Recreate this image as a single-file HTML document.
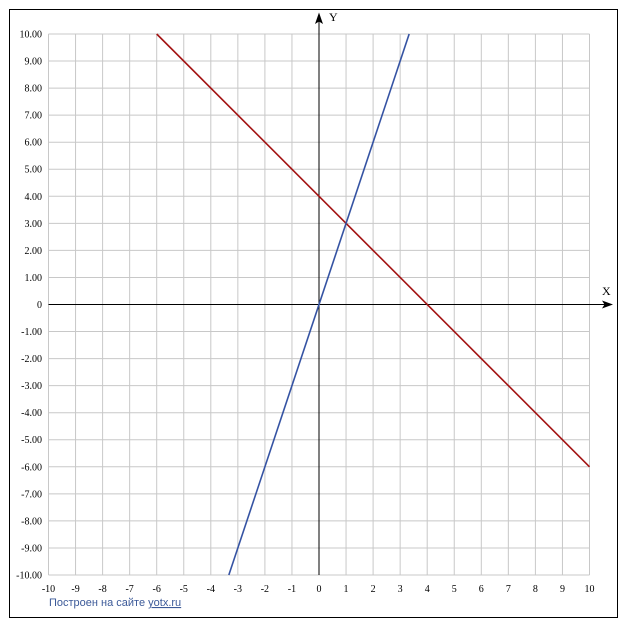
<!DOCTYPE html>
<html><head><meta charset="utf-8"><style>
html,body{margin:0;padding:0;background:#fff;}
svg{display:block;}
</style></head><body>
<svg width="627" height="630" viewBox="0 0 627 630" xmlns="http://www.w3.org/2000/svg">
<rect x="0" y="0" width="627" height="630" fill="#fff"/>
<rect x="9.5" y="9.5" width="608" height="608" fill="#fff" stroke="#000" stroke-width="1"/>
<g stroke="#c8c8c8" stroke-width="1">
<line x1="48.5" y1="34" x2="48.5" y2="575"/>
<line x1="75.55" y1="34" x2="75.55" y2="575"/>
<line x1="102.6" y1="34" x2="102.6" y2="575"/>
<line x1="129.65" y1="34" x2="129.65" y2="575"/>
<line x1="156.7" y1="34" x2="156.7" y2="575"/>
<line x1="183.75" y1="34" x2="183.75" y2="575"/>
<line x1="210.8" y1="34" x2="210.8" y2="575"/>
<line x1="237.85" y1="34" x2="237.85" y2="575"/>
<line x1="264.9" y1="34" x2="264.9" y2="575"/>
<line x1="291.95" y1="34" x2="291.95" y2="575"/>
<line x1="346.05" y1="34" x2="346.05" y2="575"/>
<line x1="373.1" y1="34" x2="373.1" y2="575"/>
<line x1="400.15" y1="34" x2="400.15" y2="575"/>
<line x1="427.2" y1="34" x2="427.2" y2="575"/>
<line x1="454.25" y1="34" x2="454.25" y2="575"/>
<line x1="481.3" y1="34" x2="481.3" y2="575"/>
<line x1="508.35" y1="34" x2="508.35" y2="575"/>
<line x1="535.4" y1="34" x2="535.4" y2="575"/>
<line x1="562.45" y1="34" x2="562.45" y2="575"/>
<line x1="589.5" y1="34" x2="589.5" y2="575"/>
<line x1="48.5" y1="34" x2="589.5" y2="34"/>
<line x1="48.5" y1="61.05" x2="589.5" y2="61.05"/>
<line x1="48.5" y1="88.1" x2="589.5" y2="88.1"/>
<line x1="48.5" y1="115.15" x2="589.5" y2="115.15"/>
<line x1="48.5" y1="142.2" x2="589.5" y2="142.2"/>
<line x1="48.5" y1="169.25" x2="589.5" y2="169.25"/>
<line x1="48.5" y1="196.3" x2="589.5" y2="196.3"/>
<line x1="48.5" y1="223.35" x2="589.5" y2="223.35"/>
<line x1="48.5" y1="250.4" x2="589.5" y2="250.4"/>
<line x1="48.5" y1="277.45" x2="589.5" y2="277.45"/>
<line x1="48.5" y1="331.55" x2="589.5" y2="331.55"/>
<line x1="48.5" y1="358.6" x2="589.5" y2="358.6"/>
<line x1="48.5" y1="385.65" x2="589.5" y2="385.65"/>
<line x1="48.5" y1="412.7" x2="589.5" y2="412.7"/>
<line x1="48.5" y1="439.75" x2="589.5" y2="439.75"/>
<line x1="48.5" y1="466.8" x2="589.5" y2="466.8"/>
<line x1="48.5" y1="493.85" x2="589.5" y2="493.85"/>
<line x1="48.5" y1="520.9" x2="589.5" y2="520.9"/>
<line x1="48.5" y1="547.95" x2="589.5" y2="547.95"/>
<line x1="48.5" y1="575" x2="589.5" y2="575"/>
</g>
<g stroke="#000" stroke-width="1">
<line x1="48.5" y1="304.5" x2="605" y2="304.5"/>
<line x1="319" y1="575" x2="319" y2="20"/>
</g>
<polygon points="613,304.5 602,300.5 604.5,304.5 602,308.5" fill="#000"/>
<polygon points="319,12.5 315,24 319,21.5 323,24" fill="#000"/>
<g font-family="Liberation Serif, serif" font-size="12" fill="#000">
<text x="329" y="21">Y</text>
<text x="602" y="295">X</text>
</g>
<line x1="156.7" y1="34" x2="589.5" y2="466.8" stroke="#a31212" stroke-width="1.6"/>
<line x1="228.83" y1="575" x2="409.17" y2="34" stroke="#3553a3" stroke-width="1.6"/>
<g font-family="Liberation Serif, serif" font-size="10" fill="#000" text-anchor="end">
<text x="42" y="37.5">10.00</text>
<text x="42" y="64.5">9.00</text>
<text x="42" y="91.6">8.00</text>
<text x="42" y="118.6">7.00</text>
<text x="42" y="145.7">6.00</text>
<text x="42" y="172.7">5.00</text>
<text x="42" y="199.8">4.00</text>
<text x="42" y="226.8">3.00</text>
<text x="42" y="253.9">2.00</text>
<text x="42" y="280.9">1.00</text>
<text x="42" y="308">0</text>
<text x="42" y="335">-1.00</text>
<text x="42" y="362.1">-2.00</text>
<text x="42" y="389.1">-3.00</text>
<text x="42" y="416.2">-4.00</text>
<text x="42" y="443.2">-5.00</text>
<text x="42" y="470.3">-6.00</text>
<text x="42" y="497.3">-7.00</text>
<text x="42" y="524.4">-8.00</text>
<text x="42" y="551.4">-9.00</text>
<text x="42" y="578.5">-10.00</text>
</g>
<g font-family="Liberation Serif, serif" font-size="10" fill="#000" text-anchor="middle">
<text x="48.5" y="592">-10</text>
<text x="75.55" y="592">-9</text>
<text x="102.6" y="592">-8</text>
<text x="129.65" y="592">-7</text>
<text x="156.7" y="592">-6</text>
<text x="183.75" y="592">-5</text>
<text x="210.8" y="592">-4</text>
<text x="237.85" y="592">-3</text>
<text x="264.9" y="592">-2</text>
<text x="291.95" y="592">-1</text>
<text x="319" y="592">0</text>
<text x="346.05" y="592">1</text>
<text x="373.1" y="592">2</text>
<text x="400.15" y="592">3</text>
<text x="427.2" y="592">4</text>
<text x="454.25" y="592">5</text>
<text x="481.3" y="592">6</text>
<text x="508.35" y="592">7</text>
<text x="535.4" y="592">8</text>
<text x="562.45" y="592">9</text>
<text x="589.5" y="592">10</text>
</g>
<text x="49" y="606" font-family="Liberation Sans, sans-serif" font-size="11" fill="#3b5998">Построен на сайте <tspan text-decoration="underline">yotx.ru</tspan></text>
</svg>
</body></html>
